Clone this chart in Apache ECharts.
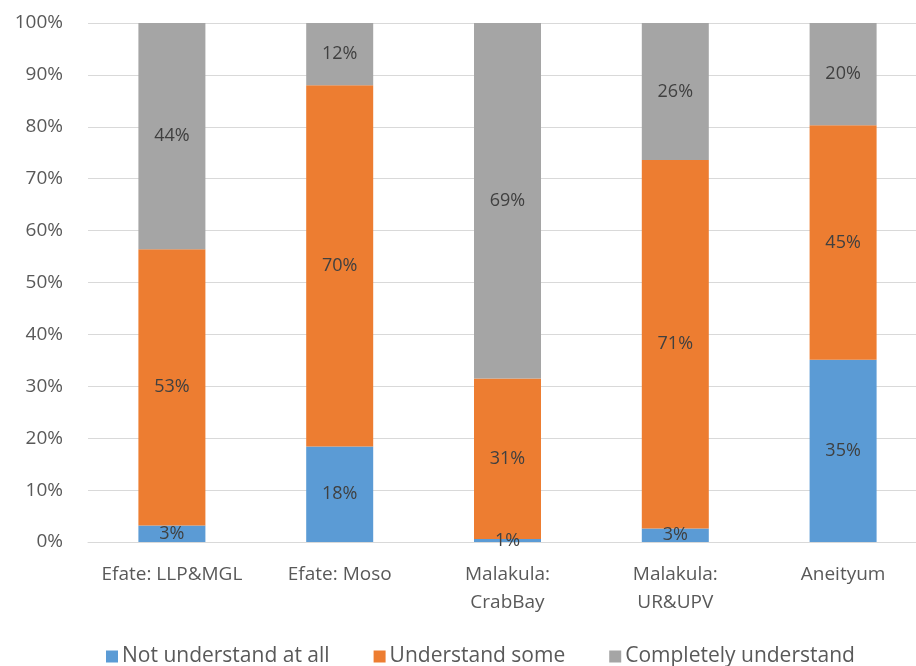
<!DOCTYPE html>
<html>
<head>
<meta charset="utf-8">
<script src="https://cdn.jsdelivr.net/npm/echarts@6/dist/echarts.min.js"></script>
<style>html,body{margin:0;padding:0;background:#fff;overflow:hidden;}#c{width:927px;height:666px;}</style>
</head>
<body>
<div id="c"></div>
<script>
var categories = ['Efate: LLP&MGL', 'Efate: Moso', 'Malakula:\nCrabBay', 'Malakula:\nUR&UPV', 'Aneityum'];
var notUnderstand = [3.2, 18.4, 0.6, 2.6, 35.1];
var understandSome = [53.2, 69.6, 30.9, 71.0, 45.2];
var completelyUnderstand = [43.6, 12.0, 68.5, 26.4, 19.7];
var seriesNames = ['Not understand at all', 'Understand some', 'Completely understand'];
var colors = ['#5B9BD5', '#ED7D31', '#A5A5A5'];

var font = '"Open Sans", sans-serif';
function mk(name, data, color) {
  return {
    name: name, type: 'bar', stack: 'total', data: data, barWidth: 67,
    itemStyle: { color: color },
    label: {
      show: true, position: 'inside', color: '#404040', fontSize: 18, fontFamily: font,
      formatter: function (p) { return Math.round(p.value) + '%'; }
    }
  };
}
var chart = echarts.init(document.getElementById('c'));
chart.setOption({
  animation: false,
  color: colors,
  grid: { left: 88, right: 0, top: 23, bottom: 124, containLabel: false },
  legend: {
    data: seriesNames, left: 101, top: 641, itemWidth: 12, itemHeight: 12, itemGap: 44,
    icon: 'rect',
    textStyle: { color: '#595959', fontSize: 21, fontFamily: font, padding: [0, 0, 0, -1] }
  },
  xAxis: {
    type: 'category', data: categories,
    axisLine: { show: true, lineStyle: { color: '#D9D9D9' } },
    axisTick: { show: false },
    axisLabel: { color: '#595959', fontSize: 19, fontFamily: font, margin: 19, lineHeight: 28, interval: 0 }
  },
  yAxis: {
    type: 'value', min: 0, max: 100, interval: 10,
    axisLine: { show: false }, axisTick: { show: false },
    splitLine: { lineStyle: { color: '#D9D9D9' } },
    axisLabel: { color: '#595959', fontSize: 19, fontFamily: font, margin: 25, formatter: '{value}%' }
  },
  series: [
    mk(seriesNames[0], notUnderstand, colors[0]),
    mk(seriesNames[1], understandSome, colors[1]),
    mk(seriesNames[2], completelyUnderstand, colors[2])
  ]
});
</script>
</body>
</html>
